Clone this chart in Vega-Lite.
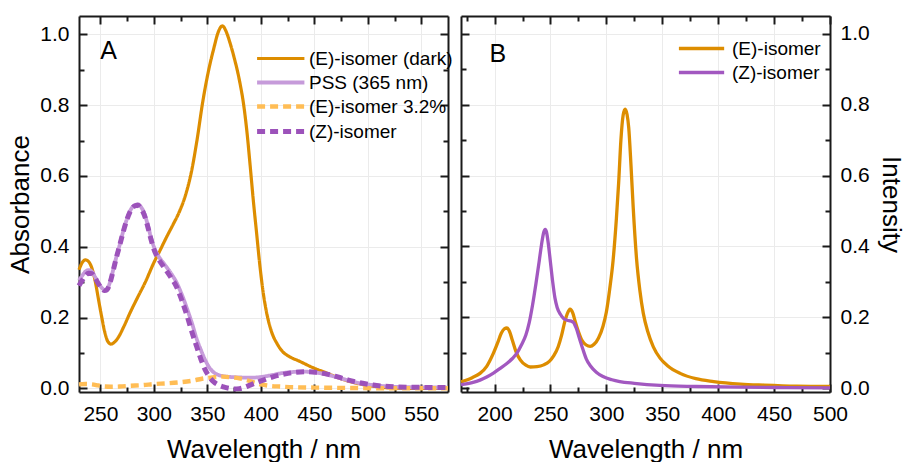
{
  "$schema": "https://vega.github.io/schema/vega-lite/v6.json",
  "padding": {"left": 7, "top": 15, "right": 4, "bottom": 0},
  "spacing": 6,
  "resolve": {"scale": {"color": "independent", "strokeDash": "independent", "strokeWidth": "independent"}},
  "config": {
    "font": "Liberation Sans",
    "view": {"stroke": null},
    "axis": {
      "labelFont": "Liberation Sans", "labelFontSize": 21, "labelColor": "#000",
      "titleFont": "Liberation Sans", "titleFontSize": 26, "titleFontWeight": "normal", "titleColor": "#000",
      "domainColor": "#1a1a1a", "domainWidth": 2, "tickColor": "#1a1a1a", "tickWidth": 2,
      "gridColor": "#ebebeb", "gridWidth": 1, "labelFlush": false, "labelOverlap": false,
      "minExtent": 0
    },
    "legend": {
      "labelFont": "Liberation Sans", "labelFontSize": 19, "labelColor": "#000",
      "padding": 0, "rowPadding": 4, "titlePadding": 0
    }
  },
  "datasets": {
    "a": [
      {"s": "(E)-isomer (dark)", "wl": 230, "v": 0.335}, {"s": "(E)-isomer (dark)", "wl": 233, "v": 0.355}, {"s": "(E)-isomer (dark)", "wl": 236, "v": 0.363}, {"s": "(E)-isomer (dark)", "wl": 239, "v": 0.358}, {"s": "(E)-isomer (dark)", "wl": 242, "v": 0.34}, {"s": "(E)-isomer (dark)", "wl": 245, "v": 0.305}, {"s": "(E)-isomer (dark)", "wl": 248, "v": 0.255}, {"s": "(E)-isomer (dark)", "wl": 251, "v": 0.205}, {"s": "(E)-isomer (dark)", "wl": 254, "v": 0.16}, {"s": "(E)-isomer (dark)", "wl": 257, "v": 0.132}, {"s": "(E)-isomer (dark)", "wl": 260, "v": 0.125}, {"s": "(E)-isomer (dark)", "wl": 263, "v": 0.13}, {"s": "(E)-isomer (dark)", "wl": 267, "v": 0.145}, {"s": "(E)-isomer (dark)", "wl": 272, "v": 0.175}, {"s": "(E)-isomer (dark)", "wl": 278, "v": 0.215}, {"s": "(E)-isomer (dark)", "wl": 285, "v": 0.258}, {"s": "(E)-isomer (dark)", "wl": 292, "v": 0.3}, {"s": "(E)-isomer (dark)", "wl": 300, "v": 0.355}, {"s": "(E)-isomer (dark)", "wl": 305, "v": 0.385}, {"s": "(E)-isomer (dark)", "wl": 312, "v": 0.428}, {"s": "(E)-isomer (dark)", "wl": 318, "v": 0.463}, {"s": "(E)-isomer (dark)", "wl": 324, "v": 0.5}, {"s": "(E)-isomer (dark)", "wl": 330, "v": 0.55}, {"s": "(E)-isomer (dark)", "wl": 335, "v": 0.61}, {"s": "(E)-isomer (dark)", "wl": 340, "v": 0.695}, {"s": "(E)-isomer (dark)", "wl": 346, "v": 0.815}, {"s": "(E)-isomer (dark)", "wl": 352, "v": 0.91}, {"s": "(E)-isomer (dark)", "wl": 356, "v": 0.96}, {"s": "(E)-isomer (dark)", "wl": 360, "v": 1.005}, {"s": "(E)-isomer (dark)", "wl": 364, "v": 1.024}, {"s": "(E)-isomer (dark)", "wl": 368, "v": 1.005}, {"s": "(E)-isomer (dark)", "wl": 371, "v": 0.978}, {"s": "(E)-isomer (dark)", "wl": 375, "v": 0.935}, {"s": "(E)-isomer (dark)", "wl": 380, "v": 0.87}, {"s": "(E)-isomer (dark)", "wl": 384, "v": 0.8}, {"s": "(E)-isomer (dark)", "wl": 387, "v": 0.725}, {"s": "(E)-isomer (dark)", "wl": 390, "v": 0.63}, {"s": "(E)-isomer (dark)", "wl": 393, "v": 0.53}, {"s": "(E)-isomer (dark)", "wl": 396, "v": 0.44}, {"s": "(E)-isomer (dark)", "wl": 399, "v": 0.35}, {"s": "(E)-isomer (dark)", "wl": 402, "v": 0.275}, {"s": "(E)-isomer (dark)", "wl": 405, "v": 0.22}, {"s": "(E)-isomer (dark)", "wl": 410, "v": 0.16}, {"s": "(E)-isomer (dark)", "wl": 415, "v": 0.127}, {"s": "(E)-isomer (dark)", "wl": 420, "v": 0.105}, {"s": "(E)-isomer (dark)", "wl": 427, "v": 0.089}, {"s": "(E)-isomer (dark)", "wl": 435, "v": 0.078}, {"s": "(E)-isomer (dark)", "wl": 449, "v": 0.058}, {"s": "(E)-isomer (dark)", "wl": 460, "v": 0.045}, {"s": "(E)-isomer (dark)", "wl": 468, "v": 0.035}, {"s": "(E)-isomer (dark)", "wl": 480, "v": 0.022}, {"s": "(E)-isomer (dark)", "wl": 490, "v": 0.014}, {"s": "(E)-isomer (dark)", "wl": 500, "v": 0.008}, {"s": "(E)-isomer (dark)", "wl": 510, "v": 0.004}, {"s": "(E)-isomer (dark)", "wl": 520, "v": 0.001}, {"s": "(E)-isomer (dark)", "wl": 540, "v": 0.0}, {"s": "(E)-isomer (dark)", "wl": 575, "v": 0.0},
      {"s": "PSS (365 nm)", "wl": 230, "v": 0.305}, {"s": "PSS (365 nm)", "wl": 233, "v": 0.318}, {"s": "PSS (365 nm)", "wl": 236, "v": 0.33}, {"s": "PSS (365 nm)", "wl": 239, "v": 0.334}, {"s": "PSS (365 nm)", "wl": 242, "v": 0.33}, {"s": "PSS (365 nm)", "wl": 245, "v": 0.315}, {"s": "PSS (365 nm)", "wl": 248, "v": 0.298}, {"s": "PSS (365 nm)", "wl": 251, "v": 0.285}, {"s": "PSS (365 nm)", "wl": 254, "v": 0.278}, {"s": "PSS (365 nm)", "wl": 256, "v": 0.28}, {"s": "PSS (365 nm)", "wl": 259, "v": 0.3}, {"s": "PSS (365 nm)", "wl": 262, "v": 0.335}, {"s": "PSS (365 nm)", "wl": 265, "v": 0.372}, {"s": "PSS (365 nm)", "wl": 268, "v": 0.405}, {"s": "PSS (365 nm)", "wl": 271, "v": 0.44}, {"s": "PSS (365 nm)", "wl": 275, "v": 0.48}, {"s": "PSS (365 nm)", "wl": 279, "v": 0.508}, {"s": "PSS (365 nm)", "wl": 282, "v": 0.517}, {"s": "PSS (365 nm)", "wl": 285, "v": 0.52}, {"s": "PSS (365 nm)", "wl": 288, "v": 0.512}, {"s": "PSS (365 nm)", "wl": 291, "v": 0.495}, {"s": "PSS (365 nm)", "wl": 294, "v": 0.465}, {"s": "PSS (365 nm)", "wl": 297, "v": 0.43}, {"s": "PSS (365 nm)", "wl": 300, "v": 0.4}, {"s": "PSS (365 nm)", "wl": 304, "v": 0.375}, {"s": "PSS (365 nm)", "wl": 310, "v": 0.35}, {"s": "PSS (365 nm)", "wl": 316, "v": 0.325}, {"s": "PSS (365 nm)", "wl": 321, "v": 0.3}, {"s": "PSS (365 nm)", "wl": 326, "v": 0.266}, {"s": "PSS (365 nm)", "wl": 331, "v": 0.225}, {"s": "PSS (365 nm)", "wl": 336, "v": 0.18}, {"s": "PSS (365 nm)", "wl": 340, "v": 0.14}, {"s": "PSS (365 nm)", "wl": 344, "v": 0.108}, {"s": "PSS (365 nm)", "wl": 348, "v": 0.08}, {"s": "PSS (365 nm)", "wl": 352, "v": 0.058}, {"s": "PSS (365 nm)", "wl": 356, "v": 0.045}, {"s": "PSS (365 nm)", "wl": 361, "v": 0.037}, {"s": "PSS (365 nm)", "wl": 368, "v": 0.033}, {"s": "PSS (365 nm)", "wl": 378, "v": 0.031}, {"s": "PSS (365 nm)", "wl": 391, "v": 0.03}, {"s": "PSS (365 nm)", "wl": 400, "v": 0.032}, {"s": "PSS (365 nm)", "wl": 410, "v": 0.037}, {"s": "PSS (365 nm)", "wl": 420, "v": 0.043}, {"s": "PSS (365 nm)", "wl": 430, "v": 0.046}, {"s": "PSS (365 nm)", "wl": 440, "v": 0.047}, {"s": "PSS (365 nm)", "wl": 450, "v": 0.045}, {"s": "PSS (365 nm)", "wl": 460, "v": 0.04}, {"s": "PSS (365 nm)", "wl": 470, "v": 0.032}, {"s": "PSS (365 nm)", "wl": 480, "v": 0.024}, {"s": "PSS (365 nm)", "wl": 490, "v": 0.016}, {"s": "PSS (365 nm)", "wl": 505, "v": 0.009}, {"s": "PSS (365 nm)", "wl": 520, "v": 0.005}, {"s": "PSS (365 nm)", "wl": 540, "v": 0.003}, {"s": "PSS (365 nm)", "wl": 575, "v": 0.002},
      {"s": "(E)-isomer 3.2%", "wl": 230, "v": 0.011}, {"s": "(E)-isomer 3.2%", "wl": 236, "v": 0.012}, {"s": "(E)-isomer 3.2%", "wl": 242, "v": 0.011}, {"s": "(E)-isomer 3.2%", "wl": 248, "v": 0.008}, {"s": "(E)-isomer 3.2%", "wl": 254, "v": 0.005}, {"s": "(E)-isomer 3.2%", "wl": 260, "v": 0.0045}, {"s": "(E)-isomer 3.2%", "wl": 268, "v": 0.005}, {"s": "(E)-isomer 3.2%", "wl": 278, "v": 0.007}, {"s": "(E)-isomer 3.2%", "wl": 290, "v": 0.009}, {"s": "(E)-isomer 3.2%", "wl": 300, "v": 0.012}, {"s": "(E)-isomer 3.2%", "wl": 312, "v": 0.014}, {"s": "(E)-isomer 3.2%", "wl": 324, "v": 0.017}, {"s": "(E)-isomer 3.2%", "wl": 335, "v": 0.021}, {"s": "(E)-isomer 3.2%", "wl": 345, "v": 0.027}, {"s": "(E)-isomer 3.2%", "wl": 355, "v": 0.031}, {"s": "(E)-isomer 3.2%", "wl": 364, "v": 0.033}, {"s": "(E)-isomer 3.2%", "wl": 372, "v": 0.031}, {"s": "(E)-isomer 3.2%", "wl": 380, "v": 0.028}, {"s": "(E)-isomer 3.2%", "wl": 388, "v": 0.022}, {"s": "(E)-isomer 3.2%", "wl": 394, "v": 0.016}, {"s": "(E)-isomer 3.2%", "wl": 400, "v": 0.011}, {"s": "(E)-isomer 3.2%", "wl": 408, "v": 0.007}, {"s": "(E)-isomer 3.2%", "wl": 418, "v": 0.005}, {"s": "(E)-isomer 3.2%", "wl": 430, "v": 0.003}, {"s": "(E)-isomer 3.2%", "wl": 450, "v": 0.002}, {"s": "(E)-isomer 3.2%", "wl": 480, "v": 0.001}, {"s": "(E)-isomer 3.2%", "wl": 520, "v": 0.0}, {"s": "(E)-isomer 3.2%", "wl": 575, "v": 0.0},
      {"s": "(Z)-isomer", "wl": 230, "v": 0.29}, {"s": "(Z)-isomer", "wl": 233, "v": 0.305}, {"s": "(Z)-isomer", "wl": 236, "v": 0.318}, {"s": "(Z)-isomer", "wl": 239, "v": 0.325}, {"s": "(Z)-isomer", "wl": 242, "v": 0.324}, {"s": "(Z)-isomer", "wl": 245, "v": 0.312}, {"s": "(Z)-isomer", "wl": 248, "v": 0.296}, {"s": "(Z)-isomer", "wl": 251, "v": 0.283}, {"s": "(Z)-isomer", "wl": 254, "v": 0.276}, {"s": "(Z)-isomer", "wl": 256, "v": 0.278}, {"s": "(Z)-isomer", "wl": 259, "v": 0.298}, {"s": "(Z)-isomer", "wl": 262, "v": 0.333}, {"s": "(Z)-isomer", "wl": 265, "v": 0.37}, {"s": "(Z)-isomer", "wl": 268, "v": 0.403}, {"s": "(Z)-isomer", "wl": 271, "v": 0.438}, {"s": "(Z)-isomer", "wl": 275, "v": 0.478}, {"s": "(Z)-isomer", "wl": 279, "v": 0.506}, {"s": "(Z)-isomer", "wl": 282, "v": 0.515}, {"s": "(Z)-isomer", "wl": 285, "v": 0.517}, {"s": "(Z)-isomer", "wl": 288, "v": 0.508}, {"s": "(Z)-isomer", "wl": 291, "v": 0.49}, {"s": "(Z)-isomer", "wl": 294, "v": 0.46}, {"s": "(Z)-isomer", "wl": 297, "v": 0.424}, {"s": "(Z)-isomer", "wl": 300, "v": 0.393}, {"s": "(Z)-isomer", "wl": 304, "v": 0.367}, {"s": "(Z)-isomer", "wl": 310, "v": 0.34}, {"s": "(Z)-isomer", "wl": 316, "v": 0.313}, {"s": "(Z)-isomer", "wl": 321, "v": 0.288}, {"s": "(Z)-isomer", "wl": 326, "v": 0.25}, {"s": "(Z)-isomer", "wl": 331, "v": 0.205}, {"s": "(Z)-isomer", "wl": 336, "v": 0.155}, {"s": "(Z)-isomer", "wl": 340, "v": 0.118}, {"s": "(Z)-isomer", "wl": 344, "v": 0.082}, {"s": "(Z)-isomer", "wl": 348, "v": 0.052}, {"s": "(Z)-isomer", "wl": 352, "v": 0.032}, {"s": "(Z)-isomer", "wl": 356, "v": 0.018}, {"s": "(Z)-isomer", "wl": 360, "v": 0.01}, {"s": "(Z)-isomer", "wl": 365, "v": 0.004}, {"s": "(Z)-isomer", "wl": 370, "v": 0.0}, {"s": "(Z)-isomer", "wl": 375, "v": -0.002}, {"s": "(Z)-isomer", "wl": 380, "v": -0.001}, {"s": "(Z)-isomer", "wl": 385, "v": 0.003}, {"s": "(Z)-isomer", "wl": 390, "v": 0.009}, {"s": "(Z)-isomer", "wl": 396, "v": 0.016}, {"s": "(Z)-isomer", "wl": 403, "v": 0.024}, {"s": "(Z)-isomer", "wl": 412, "v": 0.033}, {"s": "(Z)-isomer", "wl": 422, "v": 0.04}, {"s": "(Z)-isomer", "wl": 432, "v": 0.045}, {"s": "(Z)-isomer", "wl": 442, "v": 0.047}, {"s": "(Z)-isomer", "wl": 452, "v": 0.045}, {"s": "(Z)-isomer", "wl": 462, "v": 0.04}, {"s": "(Z)-isomer", "wl": 472, "v": 0.032}, {"s": "(Z)-isomer", "wl": 482, "v": 0.023}, {"s": "(Z)-isomer", "wl": 492, "v": 0.016}, {"s": "(Z)-isomer", "wl": 505, "v": 0.009}, {"s": "(Z)-isomer", "wl": 520, "v": 0.005}, {"s": "(Z)-isomer", "wl": 540, "v": 0.003}, {"s": "(Z)-isomer", "wl": 575, "v": 0.002}
    ],
    "b": [
      {"s": "(E)-isomer", "wl": 170, "v": 0.018}, {"s": "(E)-isomer", "wl": 180, "v": 0.03}, {"s": "(E)-isomer", "wl": 187, "v": 0.042}, {"s": "(E)-isomer", "wl": 193, "v": 0.062}, {"s": "(E)-isomer", "wl": 199, "v": 0.099}, {"s": "(E)-isomer", "wl": 203, "v": 0.13}, {"s": "(E)-isomer", "wl": 206, "v": 0.155}, {"s": "(E)-isomer", "wl": 209, "v": 0.168}, {"s": "(E)-isomer", "wl": 211, "v": 0.17}, {"s": "(E)-isomer", "wl": 213, "v": 0.163}, {"s": "(E)-isomer", "wl": 216, "v": 0.135}, {"s": "(E)-isomer", "wl": 219, "v": 0.105}, {"s": "(E)-isomer", "wl": 223, "v": 0.08}, {"s": "(E)-isomer", "wl": 228, "v": 0.065}, {"s": "(E)-isomer", "wl": 232, "v": 0.06}, {"s": "(E)-isomer", "wl": 238, "v": 0.061}, {"s": "(E)-isomer", "wl": 244, "v": 0.066}, {"s": "(E)-isomer", "wl": 249, "v": 0.076}, {"s": "(E)-isomer", "wl": 253, "v": 0.092}, {"s": "(E)-isomer", "wl": 257, "v": 0.118}, {"s": "(E)-isomer", "wl": 260, "v": 0.15}, {"s": "(E)-isomer", "wl": 263, "v": 0.19}, {"s": "(E)-isomer", "wl": 265, "v": 0.21}, {"s": "(E)-isomer", "wl": 267.5, "v": 0.223}, {"s": "(E)-isomer", "wl": 270, "v": 0.212}, {"s": "(E)-isomer", "wl": 272, "v": 0.19}, {"s": "(E)-isomer", "wl": 275, "v": 0.16}, {"s": "(E)-isomer", "wl": 278, "v": 0.136}, {"s": "(E)-isomer", "wl": 282, "v": 0.122}, {"s": "(E)-isomer", "wl": 285.5, "v": 0.118}, {"s": "(E)-isomer", "wl": 289, "v": 0.124}, {"s": "(E)-isomer", "wl": 293, "v": 0.142}, {"s": "(E)-isomer", "wl": 297, "v": 0.175}, {"s": "(E)-isomer", "wl": 300, "v": 0.215}, {"s": "(E)-isomer", "wl": 303, "v": 0.28}, {"s": "(E)-isomer", "wl": 306, "v": 0.36}, {"s": "(E)-isomer", "wl": 309, "v": 0.48}, {"s": "(E)-isomer", "wl": 311, "v": 0.58}, {"s": "(E)-isomer", "wl": 313, "v": 0.7}, {"s": "(E)-isomer", "wl": 315, "v": 0.77}, {"s": "(E)-isomer", "wl": 316.8, "v": 0.787}, {"s": "(E)-isomer", "wl": 318.5, "v": 0.772}, {"s": "(E)-isomer", "wl": 320, "v": 0.735}, {"s": "(E)-isomer", "wl": 322, "v": 0.63}, {"s": "(E)-isomer", "wl": 324, "v": 0.51}, {"s": "(E)-isomer", "wl": 327, "v": 0.365}, {"s": "(E)-isomer", "wl": 330, "v": 0.275}, {"s": "(E)-isomer", "wl": 333, "v": 0.212}, {"s": "(E)-isomer", "wl": 337, "v": 0.16}, {"s": "(E)-isomer", "wl": 342, "v": 0.117}, {"s": "(E)-isomer", "wl": 348, "v": 0.085}, {"s": "(E)-isomer", "wl": 355, "v": 0.063}, {"s": "(E)-isomer", "wl": 366, "v": 0.042}, {"s": "(E)-isomer", "wl": 380, "v": 0.027}, {"s": "(E)-isomer", "wl": 396, "v": 0.019}, {"s": "(E)-isomer", "wl": 420, "v": 0.012}, {"s": "(E)-isomer", "wl": 441, "v": 0.009}, {"s": "(E)-isomer", "wl": 470, "v": 0.006}, {"s": "(E)-isomer", "wl": 500, "v": 0.005},
      {"s": "(Z)-isomer", "wl": 170, "v": 0.01}, {"s": "(Z)-isomer", "wl": 180, "v": 0.016}, {"s": "(Z)-isomer", "wl": 187, "v": 0.023}, {"s": "(Z)-isomer", "wl": 193, "v": 0.032}, {"s": "(Z)-isomer", "wl": 199, "v": 0.043}, {"s": "(Z)-isomer", "wl": 205, "v": 0.056}, {"s": "(Z)-isomer", "wl": 211, "v": 0.07}, {"s": "(Z)-isomer", "wl": 216, "v": 0.084}, {"s": "(Z)-isomer", "wl": 220, "v": 0.099}, {"s": "(Z)-isomer", "wl": 224, "v": 0.122}, {"s": "(Z)-isomer", "wl": 228, "v": 0.15}, {"s": "(Z)-isomer", "wl": 231, "v": 0.185}, {"s": "(Z)-isomer", "wl": 234, "v": 0.235}, {"s": "(Z)-isomer", "wl": 237, "v": 0.295}, {"s": "(Z)-isomer", "wl": 240, "v": 0.36}, {"s": "(Z)-isomer", "wl": 242, "v": 0.405}, {"s": "(Z)-isomer", "wl": 244, "v": 0.44}, {"s": "(Z)-isomer", "wl": 245.3, "v": 0.448}, {"s": "(Z)-isomer", "wl": 246.5, "v": 0.44}, {"s": "(Z)-isomer", "wl": 248, "v": 0.41}, {"s": "(Z)-isomer", "wl": 250, "v": 0.355}, {"s": "(Z)-isomer", "wl": 252, "v": 0.3}, {"s": "(Z)-isomer", "wl": 254, "v": 0.255}, {"s": "(Z)-isomer", "wl": 256, "v": 0.228}, {"s": "(Z)-isomer", "wl": 259, "v": 0.208}, {"s": "(Z)-isomer", "wl": 262, "v": 0.196}, {"s": "(Z)-isomer", "wl": 265, "v": 0.192}, {"s": "(Z)-isomer", "wl": 268, "v": 0.19}, {"s": "(Z)-isomer", "wl": 270.5, "v": 0.186}, {"s": "(Z)-isomer", "wl": 273, "v": 0.17}, {"s": "(Z)-isomer", "wl": 276, "v": 0.14}, {"s": "(Z)-isomer", "wl": 279, "v": 0.11}, {"s": "(Z)-isomer", "wl": 282, "v": 0.083}, {"s": "(Z)-isomer", "wl": 286, "v": 0.062}, {"s": "(Z)-isomer", "wl": 291, "v": 0.045}, {"s": "(Z)-isomer", "wl": 297, "v": 0.033}, {"s": "(Z)-isomer", "wl": 305, "v": 0.024}, {"s": "(Z)-isomer", "wl": 312, "v": 0.019}, {"s": "(Z)-isomer", "wl": 325, "v": 0.014}, {"s": "(Z)-isomer", "wl": 348, "v": 0.008}, {"s": "(Z)-isomer", "wl": 380, "v": 0.005}, {"s": "(Z)-isomer", "wl": 420, "v": 0.003}, {"s": "(Z)-isomer", "wl": 460, "v": 0.002}, {"s": "(Z)-isomer", "wl": 500, "v": 0.001}
    ]
  },
  "hconcat": [
    {
      "width": 369, "height": 376,
      "resolve": {"axis": {"x": "independent", "y": "independent"}},
      "layer": [
        {
          "data": {"name": "a"},
          "mark": {"type": "line", "strokeCap": "butt", "strokeJoin": "round", "interpolate": "monotone"},
          "encoding": {
            "x": {"field": "wl", "type": "quantitative", "scale": {"domain": [230, 575], "nice": false, "zero": false},
                  "axis": {"orient": "bottom", "values": [250, 300, 350, 400, 450, 500, 550], "format": "d", "ticks": false, "grid": true, "domain": true, "labelPadding": 11, "title": "Wavelength / nm", "titlePadding": 12}},
            "y": {"field": "v", "type": "quantitative", "scale": {"domain": [-0.0105, 1.052], "nice": false, "zero": false},
                  "axis": {"orient": "left", "values": [0, 0.2, 0.4, 0.6, 0.8, 1.0], "format": ".1f", "ticks": false, "grid": true, "domain": true, "labelPadding": 10, "title": "Absorbance", "titlePadding": 6}},
            "color": {"field": "s", "type": "nominal",
                      "scale": {"domain": ["(E)-isomer (dark)", "PSS (365 nm)", "(E)-isomer 3.2%", "(Z)-isomer"], "range": ["#DD8D00", "#C69BDA", "#FFBD55", "#9C52BA"]},
                      "legend": {"title": null, "orient": "none", "legendX": 210, "legendY": 33, "symbolType": "M-7,0H1", "symbolSize": 140, "symbolStrokeWidth": 3, "labelOffset": 1, "symbolFillColor": "transparent"}},
            "strokeDash": {"field": "s", "type": "nominal",
                      "scale": {"domain": ["(E)-isomer (dark)", "PSS (365 nm)", "(E)-isomer 3.2%", "(Z)-isomer"], "range": [[1, 0], [1, 0], [8, 5], [8, 5]]},
                      "legend": {"title": null, "orient": "none", "legendX": 210, "legendY": 33, "symbolType": "M-7,0H1", "symbolSize": 140, "symbolStrokeWidth": 3, "labelOffset": 1, "symbolFillColor": "transparent"}},
            "strokeWidth": {"field": "s", "type": "nominal",
                      "scale": {"domain": ["(E)-isomer (dark)", "PSS (365 nm)", "(E)-isomer 3.2%", "(Z)-isomer"], "range": [3.2, 5, 3.2, 3.4]},
                      "legend": null}
          }
        },
        {
          "data": {"values": [{}]},
          "mark": {"type": "point", "opacity": 0},
          "encoding": {
            "x": {"datum": 300, "type": "quantitative", "scale": {"domain": [230, 575], "nice": false, "zero": false},
                  "axis": {"orient": "bottom", "values": [250, 300, 350, 400, 450, 500, 550], "labels": false, "grid": false, "domain": false, "tickSize": -8, "title": null}},
            "y": {"datum": 0.5, "type": "quantitative", "scale": {"domain": [-0.0105, 1.052], "nice": false, "zero": false},
                  "axis": {"orient": "left", "values": [0, 0.2, 0.4, 0.6, 0.8, 1.0], "labels": false, "grid": false, "domain": false, "tickSize": -8, "title": null}}
          }
        },
        {
          "data": {"values": [{}]},
          "mark": {"type": "point", "opacity": 0},
          "encoding": {
            "x": {"datum": 300, "type": "quantitative", "scale": {"domain": [230, 575], "nice": false, "zero": false},
                  "axis": {"orient": "bottom", "values": [275, 325, 375, 425, 475, 525], "labels": false, "grid": false, "domain": false, "tickSize": -5, "title": null}},
            "y": {"datum": 0.5, "type": "quantitative", "scale": {"domain": [-0.0105, 1.052], "nice": false, "zero": false},
                  "axis": {"orient": "left", "values": [0.1, 0.3, 0.5, 0.7, 0.9], "labels": false, "grid": false, "domain": false, "tickSize": -5, "title": null}}
          }
        },
        {
          "data": {"values": [{}]},
          "mark": {"type": "point", "opacity": 0},
          "encoding": {
            "x": {"datum": 300, "type": "quantitative", "scale": {"domain": [230, 575], "nice": false, "zero": false},
                  "axis": {"orient": "top", "values": [250, 300, 350, 400, 450, 500, 550], "labels": false, "grid": false, "domain": true, "tickSize": -8, "title": null}},
            "y": {"datum": 0.5, "type": "quantitative", "scale": {"domain": [-0.0105, 1.052], "nice": false, "zero": false},
                  "axis": {"orient": "right", "values": [0, 0.2, 0.4, 0.6, 0.8, 1.0], "labels": false, "grid": false, "domain": true, "tickSize": -8, "title": null}}
          }
        },
        {
          "data": {"values": [{}]},
          "mark": {"type": "point", "opacity": 0},
          "encoding": {
            "x": {"datum": 300, "type": "quantitative", "scale": {"domain": [230, 575], "nice": false, "zero": false},
                  "axis": {"orient": "top", "values": [275, 325, 375, 425, 475, 525], "labels": false, "grid": false, "domain": false, "tickSize": -5, "title": null}},
            "y": {"datum": 0.5, "type": "quantitative", "scale": {"domain": [-0.0105, 1.052], "nice": false, "zero": false},
                  "axis": {"orient": "right", "values": [0.1, 0.3, 0.5, 0.7, 0.9], "labels": false, "grid": false, "domain": false, "tickSize": -5, "title": null}}
          }
        },
        {
          "data": {"values": [{"label": "A"}]},
          "mark": {"type": "text", "fontSize": 25, "font": "Liberation Sans", "color": "#000", "align": "center", "baseline": "middle"},
          "encoding": {
            "x": {"datum": 257.6, "type": "quantitative", "scale": {"domain": [230, 575], "nice": false, "zero": false}, "axis": null},
            "y": {"datum": 0.953, "type": "quantitative", "scale": {"domain": [-0.0105, 1.052], "nice": false, "zero": false}, "axis": null},
            "text": {"field": "label"}
          }
        }
      ]
    },
    {
      "width": 369, "height": 376,
      "resolve": {"axis": {"x": "independent", "y": "independent"}},
      "layer": [
        {
          "data": {"name": "b"},
          "mark": {"type": "line", "strokeWidth": 3.3, "strokeJoin": "round", "interpolate": "monotone"},
          "encoding": {
            "x": {"field": "wl", "type": "quantitative", "scale": {"domain": [170, 500], "nice": false, "zero": false},
                  "axis": {"orient": "bottom", "values": [200, 250, 300, 350, 400, 450, 500], "format": "d", "ticks": false, "grid": true, "domain": true, "labelPadding": 11, "title": "Wavelength / nm", "titlePadding": 12}},
            "y": {"field": "v", "type": "quantitative", "scale": {"domain": [-0.0105, 1.05], "nice": false, "zero": false},
                  "axis": {"orient": "right", "values": [0, 0.2, 0.4, 0.6, 0.8, 1.0], "format": ".1f", "ticks": false, "grid": true, "domain": true, "labelPadding": 10, "title": "Intensity", "titlePadding": 8}},
            "color": {"field": "s", "type": "nominal",
                      "scale": {"domain": ["(E)-isomer", "(Z)-isomer"], "range": ["#DD8D00", "#A258C0"]},
                      "legend": {"title": null, "orient": "none", "legendX": 248, "legendY": 23, "symbolType": "M-7,0H1", "symbolSize": 128, "symbolStrokeWidth": 3.3, "labelOffset": 4, "symbolFillColor": "transparent"}}
          }
        },
        {
          "data": {"values": [{}]},
          "mark": {"type": "point", "opacity": 0},
          "encoding": {
            "x": {"datum": 300, "type": "quantitative", "scale": {"domain": [170, 500], "nice": false, "zero": false},
                  "axis": {"orient": "bottom", "values": [200, 250, 300, 350, 400, 450, 500], "labels": false, "grid": false, "domain": false, "tickSize": -8, "title": null}},
            "y": {"datum": 0.5, "type": "quantitative", "scale": {"domain": [-0.0105, 1.05], "nice": false, "zero": false},
                  "axis": {"orient": "right", "values": [0, 0.2, 0.4, 0.6, 0.8, 1.0], "labels": false, "grid": false, "domain": false, "tickSize": -8, "title": null}}
          }
        },
        {
          "data": {"values": [{}]},
          "mark": {"type": "point", "opacity": 0},
          "encoding": {
            "x": {"datum": 300, "type": "quantitative", "scale": {"domain": [170, 500], "nice": false, "zero": false},
                  "axis": {"orient": "bottom", "values": [175, 225, 275, 325, 375, 425, 475], "labels": false, "grid": false, "domain": false, "tickSize": -5, "title": null}},
            "y": {"datum": 0.5, "type": "quantitative", "scale": {"domain": [-0.0105, 1.05], "nice": false, "zero": false},
                  "axis": {"orient": "right", "values": [0.1, 0.3, 0.5, 0.7, 0.9], "labels": false, "grid": false, "domain": false, "tickSize": -5, "title": null}}
          }
        },
        {
          "data": {"values": [{}]},
          "mark": {"type": "point", "opacity": 0},
          "encoding": {
            "x": {"datum": 300, "type": "quantitative", "scale": {"domain": [170, 500], "nice": false, "zero": false},
                  "axis": {"orient": "top", "values": [200, 250, 300, 350, 400, 450, 500], "labels": false, "grid": false, "domain": true, "tickSize": -8, "title": null}},
            "y": {"datum": 0.5, "type": "quantitative", "scale": {"domain": [-0.0105, 1.05], "nice": false, "zero": false},
                  "axis": {"orient": "left", "values": [0, 0.2, 0.4, 0.6, 0.8, 1.0], "labels": false, "grid": false, "domain": true, "tickSize": -8, "title": null}}
          }
        },
        {
          "data": {"values": [{}]},
          "mark": {"type": "point", "opacity": 0},
          "encoding": {
            "x": {"datum": 300, "type": "quantitative", "scale": {"domain": [170, 500], "nice": false, "zero": false},
                  "axis": {"orient": "top", "values": [175, 225, 275, 325, 375, 425, 475], "labels": false, "grid": false, "domain": false, "tickSize": -5, "title": null}},
            "y": {"datum": 0.5, "type": "quantitative", "scale": {"domain": [-0.0105, 1.05], "nice": false, "zero": false},
                  "axis": {"orient": "left", "values": [0.1, 0.3, 0.5, 0.7, 0.9], "labels": false, "grid": false, "domain": false, "tickSize": -5, "title": null}}
          }
        },
        {
          "data": {"values": [{"label": "B"}]},
          "mark": {"type": "text", "fontSize": 25, "font": "Liberation Sans", "color": "#000", "align": "center", "baseline": "middle"},
          "encoding": {
            "x": {"datum": 202.9, "type": "quantitative", "scale": {"domain": [170, 500], "nice": false, "zero": false}, "axis": null},
            "y": {"datum": 0.944, "type": "quantitative", "scale": {"domain": [-0.0105, 1.05], "nice": false, "zero": false}, "axis": null},
            "text": {"field": "label"}
          }
        }
      ]
    }
  ]
}
